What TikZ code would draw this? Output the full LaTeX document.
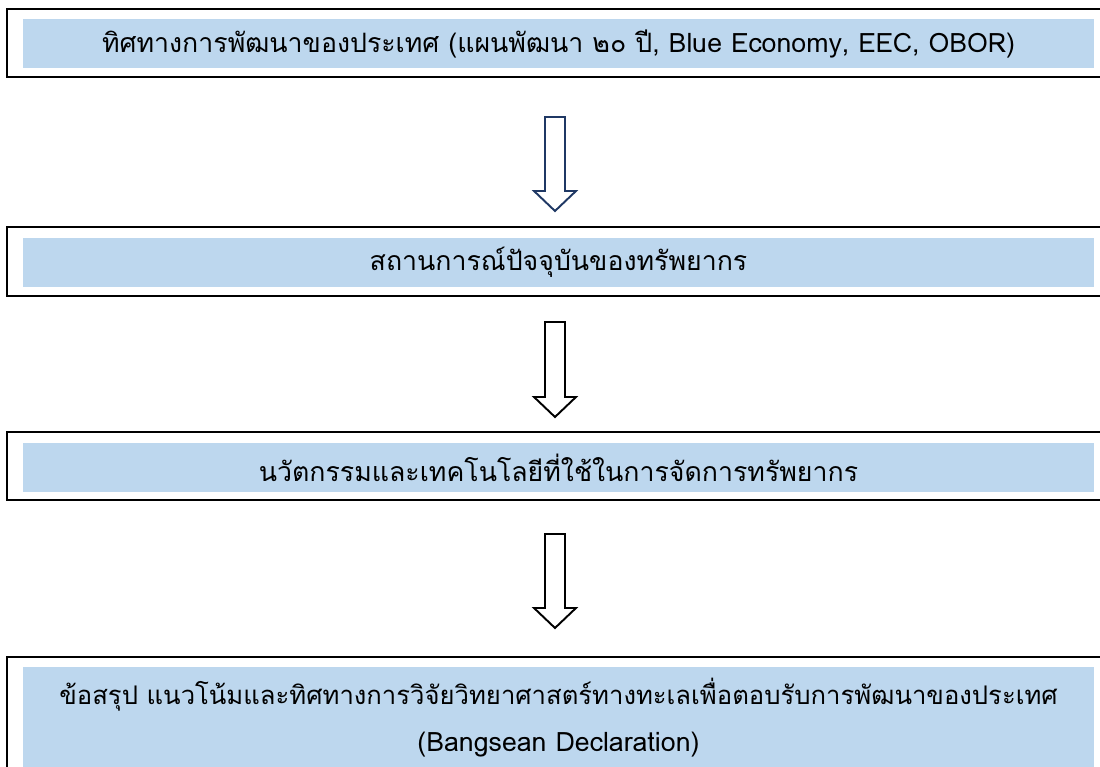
\documentclass[tikz,border=0pt]{standalone}
\usepackage{fontspec}
\newfontfamily\thaifont[Script=Thai]{Loma}
\usepackage{xcolor}
\definecolor{bandblue}{HTML}{BDD7EE}
\definecolor{navyline}{HTML}{1F3864}

\begin{document}
\begin{tikzpicture}[x=0.02cm,y=-0.02cm,
		band/.style={fill=bandblue,minimum width=21.44cm,minimum height=0.98cm,inner sep=0pt,font=\thaifont\fontsize{15.2}{19}\selectfont},
		frame/.style={draw=black,line width=1.2pt},
		blockarrow/.style={line width=1.1pt,line join=miter}]

			\useasboundingbox (0,0) rectangle (1100,767);

			% Frames
			\draw[frame] (7,9) rectangle (1112,77);
			\draw[frame] (7,227) rectangle (1112,296);
			\draw[frame] (7,432) rectangle (1112,500);
			\draw[frame] (7,657) rectangle (1112,800);

			% Bands
			\node[band] (goal) at (558.5,43.5) {ทิศทางการพัฒนาของประเทศ (แผนพัฒนา ๒๐ ปี, Blue Economy, EEC, OBOR)};
			\node[band] (state) at (558.5,262.5) {สถานการณ์ปัจจุบันของทรัพยากร};
			\node[band] (tech) at (558.5,467.5) {นวัตกรรมและเทคโนโลยีที่ใช้ในการจัดการทรัพยากร};
			\fill[bandblue] (23,667) rectangle (1094,800);
			\node[band,fill=none,minimum height=0pt,font=\thaifont\fontsize{14.6}{19}\selectfont] (sum) at (558.5,695) {ข้อสรุป แนวโน้มและทิศทางการวิจัยวิทยาศาสตร์ทางทะเลเพื่อตอบรับการพัฒนาของประเทศ};
			\node[band,fill=none,minimum height=0pt] (decl) at (558.5,745) {(Bangsean Declaration)};

			% Arrows
			\foreach \top/\tip/\col in {117/211/navyline, 322/417/black, 534/628/black}
				\draw[blockarrow,draw=\col] (545,\top) -- (565,\top) -- (565,\tip-20) -- (576,\tip-20)
					-- (555,\tip) -- (534,\tip-20) -- (545,\tip-20) -- cycle;

		\end{tikzpicture}
\end{document}
